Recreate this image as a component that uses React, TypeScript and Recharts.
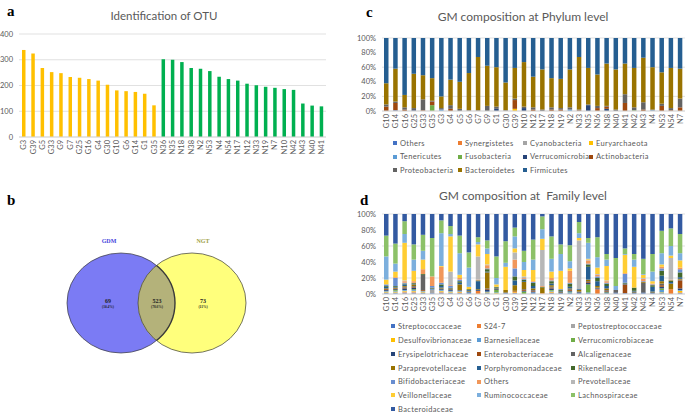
import React from 'react';
import { BarChart, Bar, XAxis, YAxis, CartesianGrid, Cell, ScatterChart, Scatter } from 'recharts';

// ---- panel a: OTU counts per sample
const otuCategories = ['G3', 'G39', 'G5', 'G33', 'G9', 'G7', 'G25', 'G16', 'G4', 'G30', 'G10', 'G6', 'G14', 'G1', 'G35',
  'N36', 'N35', 'N18', 'N38', 'N2', 'N53', 'N4', 'N54', 'N17', 'N12', 'N33', 'N19', 'N7', 'N10', 'N42', 'N43', 'N40', 'N41'];
const otuValues = [338, 324, 268, 252, 248, 233, 230, 225, 219, 203, 181, 178, 175, 168, 123,
  302, 300, 291, 268, 265, 256, 234, 225, 219, 207, 201, 195, 191, 186, 183, 130, 122, 119];
const otuTicks = [0, 50, 100, 150, 200, 250, 300, 350, 400];

// ---- panel b: venn
const vennLabels = ['GDM', 'NGT'];
const vennCounts = [69, 523, 73];
const vennPercents = ['(10.4%)', '(78.6%)', '(11%)'];

// ---- panels c/d: samples
const sampleCategories = ['G10', 'G14', 'G16', 'G25', 'G33', 'G35', 'G3', 'G4', 'G5', 'G6', 'G7', 'G9', 'G1', 'G30', 'G39',
  'N10', 'N12', 'N17', 'N18', 'N19', 'N2', 'N33', 'N35', 'N36', 'N38', 'N40', 'N41', 'N42', 'N43', 'N4', 'N53', 'N54', 'N7'];
const pctTicks = [0, 0.2, 0.4, 0.6, 0.8, 1];

// phylum level (bottom -> top)
const phylumNames = ['Others', 'Synergistetes', 'Cyanobacteria', 'Euryarchaeota', 'Tenericutes', 'Fusobacteria',
  'Verrucomicrobia', 'Actinobacteria', 'Proteobacteria', 'Bacteroidetes', 'Firmicutes'];
const phylumOthers = [0, 1, 0, 0, 0, 0, 0, 0, 0, 0, 0, 0, 0, 0, 0, 0, 0, 0, 0, 0, 0, 0, 0, 0, 0, 0, 0, 0, 0, 0, 0, 0, 0];
const phylumSynergistetes = [0, 0, 0, 0, 0, 0, 0, 0, 0, 0, 0, 0, 0, 0, 0, 0, 0, 0, 0, 0, 0, 0, 0, 0, 0, 0, 0, 0, 0, 0, 0, 0, 0];
const phylumCyanobacteria = [0, 0, 0, 0, 0, 0, 0, 0, 0, 0, 0, 0, 0, 0, 0, 0, 0, 0, 0, 0, 0, 0, 0, 0, 0, 0, 0, 0, 0, 0, 0, 0, 0];
const phylumEuryarchaeota = [0, 0, 0, 0, 0, 0, 0, 0, 0, 0, 0, 0, 0, 0, 3, 0, 0, 0, 0, 0, 0, 0, 0, 0, 0, 0, 0, 0, 0, 0, 0, 0, 0];
const phylumTenericutes = [0, 0, 0, 0, 0, 0, 2, 0, 0, 0, 0, 0, 0, 0, 0, 0, 0, 0, 0, 0, 2, 0, 0, 0, 0, 0, 0, 0, 0, 1, 0, 0, 0];
const phylumFusobacteria = [0, 0, 0, 0, 0, 8, 0, 0, 0, 0, 0, 0, 0, 0, 0, 0, 0, 0, 0, 0, 0, 0, 0, 0, 0, 0, 0, 1, 0, 0, 0, 0, 0];
const phylumVerrucomicrobia = [0, 0, 0, 1, 0, 0, 0, 0, 0, 0, 0, 0, 3, 0, 0, 4, 0, 0, 0, 0, 0, 0, 8, 0, 3, 0, 0, 0, 0, 0, 0, 0, 0];
const phylumActinobacteria = [6, 10, 2, 0, 1, 5, 0, 3, 0, 0, 0, 0, 0, 0, 12, 0, 2, 0, 2, 2, 0, 1, 0, 4, 3, 0, 11, 0, 2, 0, 7, 1, 5];
const phylumProteobacteria = [3, 2, 3, 3, 15, 1, 2, 5, 3, 1, 1, 7, 3, 1, 2, 2, 3, 2, 3, 2, 3, 1, 1, 3, 1, 2, 12, 4, 10, 1, 3, 3, 12];
const phylumBacteroidetes = [29, 45, 17, 47, 33, 31, 16, 35, 37, 51, 73, 55, 54, 38, 42, 61, 42, 55, 40, 40, 52, 72, 50, 43, 58, 55, 42, 54, 61, 58, 43, 55, 41];
const phylumFirmicutes = [62, 42, 78, 49, 51, 55, 80, 57, 60, 48, 26, 38, 40, 61, 41, 33, 53, 43, 55, 56, 43, 26, 41, 50, 35, 43, 35, 41, 27, 40, 47, 41, 42];
const phylumValues = [phylumOthers, phylumSynergistetes, phylumCyanobacteria, phylumEuryarchaeota, phylumTenericutes,
  phylumFusobacteria, phylumVerrucomicrobia, phylumActinobacteria, phylumProteobacteria, phylumBacteroidetes, phylumFirmicutes];

// family level (bottom -> top)
const familyNames = ['Streptococcaceae', 'S24-7', 'Peptostreptococcaceae', 'Desulfovibrionaceae', 'Barnesiellaceae',
  'Verrucomicrobiaceae', 'Erysipelotrichaceae', 'Enterobacteriaceae', 'Alcaligenaceae', 'Paraprevotellaceae',
  'Porphyromonadaceae', 'Rikenellaceae', 'Bifidobacteriaceae', 'Others', 'Prevotellaceae', 'Veillonellaceae',
  'Ruminococcaceae', 'Lachnospiraceae', 'Bacteroidaceae'];
const famStreptococcaceae = [1, 1, 1, 1, 1, 1, 1, 1, 1, 1, 0, 1, 0, 1, 1, 0, 1, 0, 1, 1, 1, 1, 1, 0, 1, 1, 1, 1, 1, 1, 1, 0, 1];
const famS247 = [0, 0, 1, 1, 0, 0, 1, 0, 1, 0, 4, 0, 0, 0, 1, 0, 0, 1, 1, 0, 0, 0, 0, 6, 0, 0, 0, 0, 0, 0, 0, 6, 1];
const famPeptostreptococcaceae = [1, 1, 1, 1, 1, 4, 1, 1, 0, 0, 0, 0, 0, 0, 0, 0, 0, 0, 0, 0, 0, 0, 0, 0, 0, 0, 0, 0, 0, 0, 0, 0, 0];
const famDesulfovibrionaceae = [1, 1, 1, 1, 1, 0, 1, 1, 1, 0, 0, 1, 1, 0, 1, 0, 0, 0, 1, 0, 0, 0, 0, 0, 0, 0, 0, 0, 0, 0, 1, 0, 2];
const famBarnesiellaceae = [1, 1, 1, 1, 1, 1, 1, 1, 1, 1, 0, 1, 1, 0, 0, 0, 1, 0, 1, 0, 1, 0, 1, 0, 0, 0, 0, 0, 0, 0, 3, 0, 1];
const famVerrucomicrobiaceae = [0, 1, 0, 1, 0, 0, 0, 0, 0, 0, 0, 0, 3, 0, 0, 3, 0, 0, 1, 0, 1, 0, 10, 0, 1, 0, 0, 0, 0, 0, 2, 0, 0];
const famErysipelotrichaceae = [1, 1, 2, 2, 0, 0, 1, 1, 0, 1, 1, 2, 1, 0, 0, 1, 1, 0, 2, 1, 1, 1, 2, 1, 1, 1, 0, 1, 1, 1, 2, 0, 2];
const famEnterobacteriaceae = [1, 1, 1, 1, 1, 0, 0, 0, 0, 0, 0, 1, 0, 0, 1, 1, 1, 0, 1, 0, 1, 0, 1, 0, 1, 0, 11, 0, 0, 0, 2, 0, 10];
const famAlcaligenaceae = [0, 0, 1, 1, 19, 1, 1, 1, 1, 0, 0, 1, 0, 1, 0, 1, 1, 0, 1, 0, 1, 1, 1, 1, 1, 3, 0, 0, 12, 0, 2, 0, 1];
const famParaprevotellaceae = [1, 1, 1, 2, 0, 0, 1, 1, 7, 1, 1, 20, 1, 3, 7, 9, 2, 7, 2, 1, 1, 2, 2, 2, 2, 0, 0, 1, 1, 1, 3, 7, 1];
const famPorphyromonadaceae = [2, 1, 2, 1, 0, 0, 2, 1, 2, 1, 10, 1, 1, 0, 6, 1, 3, 0, 2, 1, 2, 1, 16, 6, 3, 0, 1, 1, 0, 6, 7, 2, 2];
const famRikenellaceae = [1, 1, 1, 1, 1, 1, 2, 0, 2, 1, 1, 3, 1, 0, 5, 2, 4, 1, 3, 1, 4, 0, 3, 4, 3, 0, 1, 4, 0, 2, 6, 2, 6];
const famBifidobacteriaceae = [2, 10, 1, 0, 0, 2, 2, 2, 2, 0, 0, 1, 0, 0, 10, 1, 1, 0, 1, 1, 1, 0, 1, 2, 1, 0, 11, 0, 1, 1, 3, 0, 4];
const famOthers = [0, 1, 2, 2, 6, 12, 20, 1, 2, 0, 1, 4, 0, 0, 11, 1, 1, 1, 3, 0, 15, 0, 4, 2, 2, 0, 1, 0, 3, 1, 2, 1, 2];
const famPrevotellaceae = [0, 0, 1, 0, 0, 0, 0, 17, 0, 0, 29, 1, 0, 0, 9, 2, 0, 45, 0, 0, 0, 61, 1, 1, 1, 0, 0, 0, 1, 0, 0, 27, 0];
const famVeillonellaceae = [6, 7, 47, 13, 12, 0, 1, 44, 4, 3, 15, 13, 3, 29, 5, 8, 14, 14, 8, 23, 3, 3, 1, 8, 18, 0, 23, 26, 4, 3, 3, 3, 9];
const famRuminococcaceae = [29, 10, 11, 14, 11, 0, 41, 3, 27, 24, 3, 7, 8, 5, 15, 10, 13, 12, 16, 21, 9, 6, 20, 13, 8, 5, 1, 9, 1, 12, 14, 12, 9];
const famLachnospiraceae = [26, 25, 16, 19, 20, 48, 16, 10, 22, 19, 6, 10, 27, 27, 11, 14, 25, 16, 28, 12, 20, 14, 6, 25, 7, 35, 7, 7, 19, 22, 28, 22, 24];
const famBacteroidaceae = [27, 37, 9, 38, 26, 30, 8, 15, 27, 48, 29, 33, 53, 34, 17, 46, 32, 3, 28, 38, 39, 10, 30, 29, 50, 55, 43, 50, 56, 50, 21, 18, 25];
const familyValues = [famStreptococcaceae, famS247, famPeptostreptococcaceae, famDesulfovibrionaceae, famBarnesiellaceae,
  famVerrucomicrobiaceae, famErysipelotrichaceae, famEnterobacteriaceae, famAlcaligenaceae, famParaprevotellaceae,
  famPorphyromonadaceae, famRikenellaceae, famBifidobacteriaceae, famOthers, famPrevotellaceae, famVeillonellaceae,
  famRuminococcaceae, famLachnospiraceae, famBacteroidaceae];

// excel default series palette
const palette = ['#4472C4', '#ED7D31', '#A5A5A5', '#FFC000', '#5B9BD5', '#70AD47', '#264478', '#9E480E', '#636363',
  '#997300', '#255E91', '#43682B', '#698ED0', '#F1975A', '#B7B7B7', '#FFCD33', '#7CAFDD', '#8CC168', '#335AA1'];

const SANS = 'Lato, "Open Sans", sans-serif';
const SERIF = '"Liberation Serif", "DejaVu Serif", serif';
const TXT = '#595959';
const GRID = '#D9D9D9';

const otuData = otuCategories.map((name, i) => ({ name, value: otuValues[i] }));
const buildRows = (names: string[], values: number[][]) =>
  sampleCategories.map((name, i) => {
    const row: Record<string, string | number> = { name };
    names.forEach((n, k) => { row[n] = values[k][i]; });
    return row;
  });
const phylumData = buildRows(phylumNames, phylumValues);
const familyData = buildRows(familyNames, familyValues);

// vertical category label, reads bottom -> top, top end just under the axis
const RotTick = ({ x, y, payload }: any) => (
  <g transform={`translate(${x},${y})`}>
    <text transform="rotate(-90)" x={5} y={0} dy="0.35em" textAnchor="end" fontSize={7.5} fill={TXT} fontFamily={SANS}>
      {payload.value}
    </text>
  </g>
);

const Title = ({ text, cx, cy, size }: { text: string; cx: number; cy: number; size: number }) => (
  <div style={{ position: 'absolute', left: cx - 150, top: cy - size * 0.7, width: 300, textAlign: 'center',
    fontFamily: SANS, fontSize: size, color: TXT, whiteSpace: 'pre', lineHeight: 1.4 }}>{text}</div>
);

const PanelLetter = ({ ch, x, y }: { ch: string; x: number; y: number }) => (
  <div style={{ position: 'absolute', left: x, top: y, fontFamily: SERIF, fontWeight: 'bold', fontSize: 15, lineHeight: 1 }}>{ch}</div>
);

const GridLegend = ({ names, colX, rowY }: { names: string[]; colX: number[]; rowY: number[] }) => (
  <>
    {names.map((n, i) => (
      <div key={n} style={{ position: 'absolute', left: colX[i % colX.length] - 2, top: rowY[Math.floor(i / colX.length)] - 5,
        height: 10, display: 'flex', alignItems: 'center', fontFamily: SANS, fontSize: 7.5, color: TXT,
        letterSpacing: 0.35, whiteSpace: 'nowrap' }}>
        <span style={{ width: 4, height: 4, background: palette[i], marginRight: 3, display: 'inline-block' }} />
        {n}
      </div>
    ))}
  </>
);

const VENN_STEP = 71;
const VennShape = (props: any) => {
  const { cx, cy, payload } = props;
  const rx = 54;
  const ry = 50;
  if (payload.idx === 0) {
    return (
      <g>
        <ellipse cx={cx} cy={cy} rx={rx} ry={ry} fill="#7B7BF4" stroke="#3a3a3a" strokeWidth={0.7} />
        <text x={cx - 12} y={cy - 60} textAnchor="middle" fontFamily={SERIF} fontWeight="bold" fontSize={6} fill="#4545DD">{payload.label}</text>
        <text x={cx - 13} y={cy} textAnchor="middle" fontFamily={SERIF} fontWeight="bold" fontSize={6} fill="#222">{vennCounts[0]}</text>
        <text x={cx - 13} y={cy + 4.5} textAnchor="middle" fontFamily={SERIF} fontWeight="bold" fontSize={3.5} fill="#222">{vennPercents[0]}</text>
      </g>
    );
  }
  const bx = cx - VENN_STEP;
  return (
    <g>
      <defs>
        <clipPath id="vennClip">
          <ellipse cx={cx} cy={cy} rx={rx} ry={ry} />
        </clipPath>
      </defs>
      <ellipse cx={cx} cy={cy} rx={rx} ry={ry} fill="#FFFF7C" stroke="none" />
      <ellipse cx={bx} cy={cy} rx={rx} ry={ry} fill="#B4B27A" stroke="#3a3a3a" strokeWidth={1.4} clipPath="url(#vennClip)" />
      <ellipse cx={cx} cy={cy} rx={rx} ry={ry} fill="none" stroke="#3a3a3a" strokeWidth={0.7} />
      <text x={cx + 11} y={cy - 60} textAnchor="middle" fontFamily={SERIF} fontWeight="bold" fontSize={6} fill="#A0A045">{payload.label}</text>
      <text x={bx + 36} y={cy} textAnchor="middle" fontFamily={SERIF} fontWeight="bold" fontSize={6} fill="#222">{vennCounts[1]}</text>
      <text x={bx + 36} y={cy + 4.5} textAnchor="middle" fontFamily={SERIF} fontWeight="bold" fontSize={3.5} fill="#222">{vennPercents[1]}</text>
      <text x={cx + 11} y={cy} textAnchor="middle" fontFamily={SERIF} fontWeight="bold" fontSize={6} fill="#222">{vennCounts[2]}</text>
      <text x={cx + 11} y={cy + 4.5} textAnchor="middle" fontFamily={SERIF} fontWeight="bold" fontSize={3.5} fill="#222">{vennPercents[2]}</text>
    </g>
  );
};
const vennData = vennLabels.map((label, idx) => ({ idx, y: 0, label }));

const pctFmt = (v: number) => `${Math.round(v * 100)}%`;
const tickStyle = { fontSize: 7.5, fill: TXT, fontFamily: SANS };

const StackPanel = ({ data, names, top, height, marginTop }: { data: any[]; names: string[]; top: number; height: number; marginTop: number }) => (
  <div style={{ position: 'absolute', left: 340, top }}>
    <BarChart width={345} height={height} data={data} stackOffset="expand" barSize={4.5}
      margin={{ top: marginTop, right: 0, bottom: 0, left: 0 }}>
      <CartesianGrid vertical={false} stroke={GRID} strokeWidth={0.8} />
      <XAxis dataKey="name" interval={0} tick={<RotTick />} tickLine={false} axisLine={{ stroke: GRID }} height={20} />
      <YAxis width={42} ticks={pctTicks} domain={[0, 1]} tickFormatter={pctFmt} tick={tickStyle}
        tickLine={false} axisLine={false} tickMargin={0} />
      {names.map((n, i) => (
        <Bar key={n} dataKey={n} stackId="s" fill={palette[i]} isAnimationActive={false} />
      ))}
    </BarChart>
  </div>
);

export default function App() {
  return (
    <div style={{ position: 'absolute', left: 0, top: 0, width: 685, height: 412, background: '#fff', overflow: 'hidden' }}>
      {/* a */}
      <PanelLetter ch="a" x={7} y={4} />
      <Title text="Identification of OTU" cx={164} cy={16} size={11.5} />
      <div style={{ position: 'absolute', left: 0, top: 0 }}>
        <BarChart width={335} height={160} data={otuData} barSize={3.5} margin={{ top: 34, right: 9, bottom: 5, left: 0 }}>
          <CartesianGrid vertical={false} stroke={GRID} strokeWidth={0.8} />
          <XAxis dataKey="name" interval={0} tick={<RotTick />} tickLine={false} axisLine={{ stroke: GRID }} height={18} />
          <YAxis width={19} ticks={otuTicks} domain={[0, 400]} tick={tickStyle} tickLine={false} axisLine={false} tickMargin={0} />
          <Bar dataKey="value" isAnimationActive={false}>
            {otuData.map((d) => (
              <Cell key={d.name} fill={d.name.startsWith('G') ? '#FFC000' : '#00B050'} />
            ))}
          </Bar>
        </BarChart>
      </div>

      {/* b */}
      <PanelLetter ch="b" x={7} y={193} />
      <div style={{ position: 'absolute', left: 0, top: 170 }}>
        <ScatterChart width={340} height={242} margin={{ top: 83, right: 340 - 121 - VENN_STEP, bottom: 59, left: 121 }}>
          <XAxis type="number" dataKey="idx" domain={[0, 1]} hide />
          <YAxis type="number" dataKey="y" domain={[-1, 1]} hide />
          <Scatter data={vennData} shape={<VennShape />} isAnimationActive={false} />
        </ScatterChart>
      </div>

      {/* c */}
      <PanelLetter ch="c" x={366} y={5} />
      <Title text="GM composition at Phylum level" cx={523} cy={17} size={12} />
      <StackPanel data={phylumData} names={phylumNames} top={0} height={131} marginTop={38} />
      <GridLegend names={phylumNames} colX={[395, 460, 525, 591]} rowY={[143, 156.5, 170]} />

      {/* d */}
      <PanelLetter ch="d" x={360} y={193} />
      <Title text="GM composition at  Family level" cx={523} cy={196} size={12} />
      <StackPanel data={familyData} names={familyNames} top={180} height={134} marginTop={34} />
      <GridLegend names={familyNames} colX={[393, 479, 573]} rowY={[326, 340, 354, 368, 381.5, 395, 409]} />
    </div>
  );
}
